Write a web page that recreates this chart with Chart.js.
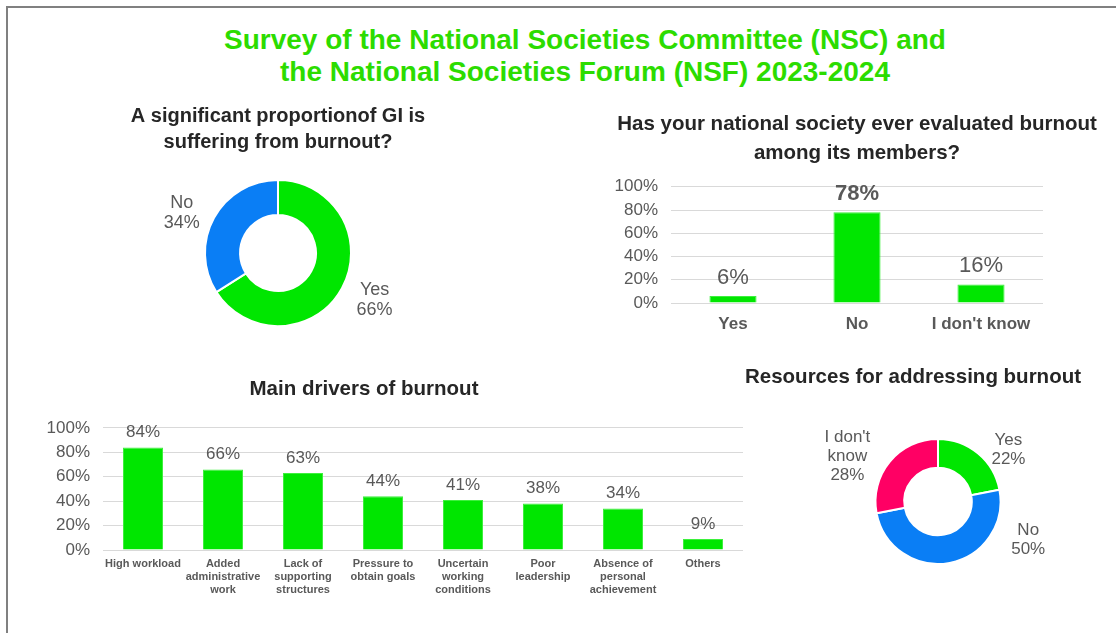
<!DOCTYPE html>
<html>
<head>
<meta charset="utf-8">
<script src="https://cdn.jsdelivr.net/npm/chart.js@4/dist/chart.umd.min.js"></script>
<style>
  html, body { margin: 0; padding: 0; background: #fff; overflow: hidden; }
  body { width: 1116px; height: 633px; position: relative; font-family: "Liberation Sans", Arial, sans-serif; }
  .frame { position: absolute; left: 6px; top: 6px; width: 1200px; height: 700px; border-top: 2px solid #808080; border-left: 2px solid #808080; }
  .main-title { position: absolute; left: 85px; top: 24px; width: 1000px; text-align: center; color: #2cdc00; font-weight: bold; font-size: 28px; line-height: 32px; }
  .box { position: absolute; }
</style>
</head>
<body>
<div class="frame"></div>
<div class="main-title">Survey of the National Societies Committee (NSC) and<br>the National Societies Forum (NSF) 2023-2024</div>

<div class="box" style="left:98px;top:100px;width:360px;height:227px"><canvas id="burnoutPie"></canvas></div>
<div class="box" style="left:600px;top:100px;width:514px;height:243px"><canvas id="evaluatedBar"></canvas></div>
<div class="box" style="left:-15px;top:370px;width:758px;height:240px"><canvas id="driversBar"></canvas></div>
<div class="box" style="left:733px;top:360px;width:360px;height:205px"><canvas id="resourcesPie"></canvas></div>

<script>
// ---- data ----
const burnoutLabels = ['Yes', 'No'];
const burnoutValues = [66, 34];

const evaluatedLabels = ['Yes', 'No', "I don't know"];
const evaluatedValues = [6, 78, 16];

const driverLabels = [
  'High workload',
  ['Added', 'administrative', 'work'],
  ['Lack of', 'supporting', 'structures'],
  ['Pressure to', 'obtain goals'],
  ['Uncertain', 'working', 'conditions'],
  ['Poor', 'leadership'],
  ['Absence of', 'personal', 'achievement'],
  'Others'
];
const driverValues = [84, 66, 63, 44, 41, 38, 34, 9];

const resourceLabels = ['Yes', 'No', ["I don't", 'know']];
const resourceValues = [22, 50, 28];

const percentTicks = [0, 20, 40, 60, 80, 100];

const GREEN = '#00e600';
const BLUE = '#0a7ef5';
const PINK = '#ff0064';
const GREY = '#595959';
const DARK = '#262626';
const FONT = '"Liberation Sans", Arial, sans-serif';

// labels outside the doughnut ring
const outsideLabels = {
  id: 'outsideLabels',
  afterDatasetsDraw(chart, args, opts) {
    const ctx = chart.ctx;
    const meta = chart.getDatasetMeta(0);
    const vals = chart.data.datasets[0].data;
    ctx.save();
    ctx.font = opts.size + 'px ' + FONT;
    ctx.fillStyle = GREY;
    ctx.textAlign = 'center';
    ctx.textBaseline = 'middle';
    meta.data.forEach((arc, i) => {
      const p = arc.getProps(['x', 'y', 'startAngle', 'endAngle', 'outerRadius'], true);
      const mid = (p.startAngle + p.endAngle) / 2 + opts.shift[i] * Math.PI / 180;
      const r = p.outerRadius * opts.dist[i];
      const cx = p.x + Math.cos(mid) * r;
      const cy = p.y + Math.sin(mid) * r;
      const lines = [].concat(chart.data.labels[i], vals[i] + '%');
      lines.forEach((t, k) => ctx.fillText(t, cx, cy + (k - (lines.length - 1) / 2) * opts.lineHeight));
    });
    ctx.restore();
  }
};

// value labels on top of bars
const barLabels = {
  id: 'barLabels',
  afterDatasetsDraw(chart, args, opts) {
    const ctx = chart.ctx;
    const meta = chart.getDatasetMeta(0);
    const vals = chart.data.datasets[0].data;
    ctx.save();
    ctx.fillStyle = GREY;
    ctx.textAlign = 'center';
    ctx.textBaseline = 'middle';
    meta.data.forEach((bar, i) => {
      const bold = (opts.bold || []).includes(i);
      ctx.font = (bold ? 'bold ' : '') + opts.size + 'px ' + FONT;
      ctx.fillText(vals[i] + '%', bar.x, bar.y - opts.offset);
    });
    ctx.restore();
  }
};

function titleOpts(lines, size, lineHeight, top, bottom) {
  return {
    display: true,
    text: lines,
    color: DARK,
    font: { family: FONT, size: size, weight: 'bold', lineHeight: lineHeight },
    padding: { top: top, bottom: bottom }
  };
}

function percentScale(width, size) {
  return {
    min: 0, max: 100,
    afterFit(scale) { scale.width = width; },
    afterBuildTicks(scale) { scale.ticks = percentTicks.map(v => ({ value: v })); },
    grid: { color: '#d9d9d9', drawTicks: false },
    border: { display: false },
    ticks: { color: GREY, padding: 13, autoSkip: false, font: { family: FONT, size: size }, callback: v => v + '%' }
  };
}

// empty axis used only to reserve room beside the plot
function spacer(position, width) {
  return {
    type: 'linear', position: position, display: true,
    afterFit(scale) { scale.width = width; },
    grid: { display: false, drawTicks: false },
    border: { display: false },
    ticks: { display: false }
  };
}

Chart.defaults.animation = false;
Chart.defaults.responsive = true;
Chart.defaults.maintainAspectRatio = false;

new Chart(document.getElementById('burnoutPie'), {
  type: 'doughnut',
  data: {
    labels: burnoutLabels,
    datasets: [{ data: burnoutValues, backgroundColor: [GREEN, BLUE], borderColor: '#fff', borderWidth: 2 }]
  },
  options: {
    cutout: '52%',
    plugins: {
      legend: { display: false },
      tooltip: { enabled: false },
      title: titleOpts(['A significant proportionof GI is', 'suffering from burnout?'], 20, 1.3, 3, 24),
      outsideLabels: { size: 18, lineHeight: 20, shift: [-3, -6], dist: [1.47, 1.43] }
    }
  },
  plugins: [outsideLabels]
});

new Chart(document.getElementById('evaluatedBar'), {
  type: 'bar',
  data: {
    labels: evaluatedLabels,
    datasets: [{ data: evaluatedValues, backgroundColor: GREEN, borderColor: '#3df03d', borderWidth: 1, barPercentage: 0.38, categoryPercentage: 1 }]
  },
  options: {
    scales: {
      x: {
        grid: { display: false, drawTicks: false },
        border: { display: false },
        afterFit(scale) { scale.height = 40; },
        ticks: { color: GREY, padding: 11, font: { family: FONT, size: 17, weight: 'bold' } }
      },
      y: percentScale(71, 17),
      pad: spacer('right', 71)
    },
    plugins: {
      legend: { display: false },
      tooltip: { enabled: false },
      title: titleOpts(['Has your national society ever evaluated burnout', 'among its members?'], 20.5, 1.41, 9.5, 19.5),
      barLabels: { size: 22, offset: 18, bold: [1] }
    }
  },
  plugins: [barLabels]
});

new Chart(document.getElementById('driversBar'), {
  type: 'bar',
  data: {
    labels: driverLabels,
    datasets: [{ data: driverValues, backgroundColor: GREEN, borderColor: '#3df03d', borderWidth: 1, barPercentage: 0.5, categoryPercentage: 1 }]
  },
  options: {
    scales: {
      x: {
        grid: { display: false, drawTicks: false },
        border: { display: false },
        afterFit(scale) { scale.height = 60; },
        ticks: { color: GREY, padding: 7, maxRotation: 0, autoSkip: false, font: { family: FONT, size: 11, weight: 'bold', lineHeight: 1.2 } }
      },
      y: percentScale(118, 17)
    },
    plugins: {
      legend: { display: false },
      tooltip: { enabled: false },
      title: titleOpts('Main drivers of burnout', 20.5, 1.3, 5.7, 25.6),
      barLabels: { size: 17, offset: 15 }
    }
  },
  plugins: [barLabels]
});

new Chart(document.getElementById('resourcesPie'), {
  type: 'doughnut',
  data: {
    labels: resourceLabels,
    datasets: [{ data: resourceValues, backgroundColor: [GREEN, BLUE, PINK], borderColor: '#fff', borderWidth: 2 }]
  },
  options: {
    cutout: '54%',
    scales: { pad: spacer('left', 50) },
    plugins: {
      legend: { display: false },
      tooltip: { enabled: false },
      title: titleOpts('Resources for addressing burnout', 20.5, 1.3, 3.7, 47.6),
      outsideLabels: { size: 17, lineHeight: 19, shift: [14, -56, -13], dist: [1.40, 1.57, 1.62] }
    }
  },
  plugins: [outsideLabels]
});
</script>
</body>
</html>
